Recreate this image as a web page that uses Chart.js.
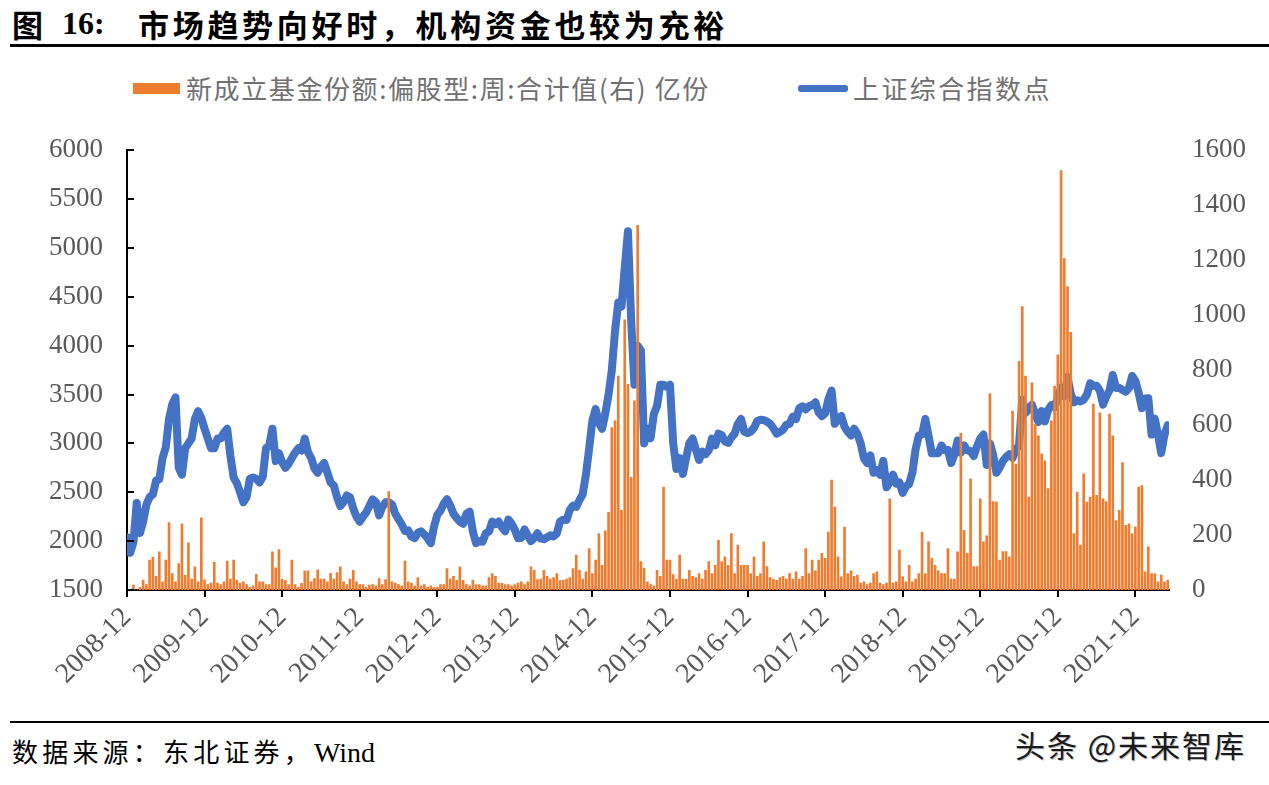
<!DOCTYPE html>
<html lang="zh-CN">
<head>
<meta charset="utf-8">
<script src="https://cdn.jsdelivr.net/npm/chart.js@4.4.1/dist/chart.umd.min.js"></script>
<style>
  html, body { margin: 0; padding: 0; background: #fff; }
  #page { position: relative; width: 1269px; height: 785px; overflow: hidden; font-family: "Noto Sans CJK SC", sans-serif; }
  .abs { position: absolute; white-space: nowrap; }
  .title { font-weight: bold; font-size: 31px; line-height: 31px; color: #000; top: 8px; }
  .rule { position: absolute; left: 10px; width: 1259px; height: 3px; background: #000; }
  .legend-text { font-size: 26px; line-height: 26px; color: #707070; letter-spacing: 1.6px; top: 75px; }
  #chart { position: absolute; left: 0; top: 110px; }
</style>
</head>
<body>
<div id="page">
  <div class="abs title" style="left:12px;">图</div>
  <div class="abs title" style="left:62px; font-family:'Liberation Serif', serif; font-size:32px;">16:</div>
  <div class="abs title" style="left:138px; letter-spacing:3.7px;">市场趋势向好时，机构资金也较为充裕</div>
  <div class="rule" style="top:44px;"></div>

  <div class="abs" style="left:133px; top:83px; width:47px; height:11px; background:#ED7D31;"></div>
  <div class="abs legend-text" style="left:186px;">新成立基金份额:偏股型:周:合计值(右) 亿份</div>
  <div class="abs" style="left:798px; top:85px; width:50px; height:7px; border-radius:3px; background:#4472C4;"></div>
  <div class="abs legend-text" style="left:853px; letter-spacing:2.4px;">上证综合指数点</div>

  <canvas id="chart" width="1269" height="610"></canvas>

  <div class="rule" style="top:721px; height:2px;"></div>
  <div class="abs" style="left:12px; top:737px; font-size:26px; line-height:28px; letter-spacing:4.2px; color:#000;">数据来源：东北证券，<span style="font-family:'Liberation Serif', serif; font-size:28px; letter-spacing:0;">Wind</span></div>
  <div class="abs" style="left:1015px; top:727px; font-size:30px; line-height:34px; letter-spacing:2px; color:#1a1a1a; text-shadow:1px 1px 0 #bbb;">头条 @未来智库</div>
</div>

<script>
// half-month periods starting 2008-12; x = period / 2 (months since 2008-12)
const tickLabels = ['2008-12', '2009-12', '2010-12', '2011-12', '2012-12', '2013-12', '2014-12',
                    '2015-12', '2016-12', '2017-12', '2018-12', '2019-12', '2020-12', '2021-12'];

// 上证综合指数 (点), two readings per month
const szIndex = [
  2040,
  1880, 1990, 2390, 2082, 2200, 2373, 2450, 2477, 2620, 2633, 2850, 2959, 3250, 3400, 3470, 2750, 2680, 2950, 3000, 3050, 3250, 3330, 3260, 3150,  // 2009
  3050, 2950, 2950, 3051, 3050, 3110, 3150, 2871, 2650, 2592, 2500, 2398, 2450, 2638, 2650, 2638, 2600, 2656, 2950, 2979, 3150, 2820, 2900, 2808,  // 2010
  2750, 2790, 2850, 2905, 2950, 2928, 3050, 2911, 2850, 2743, 2700, 2762, 2800, 2701, 2600, 2568, 2450, 2359, 2400, 2468, 2450, 2333, 2250, 2199,  // 2011
  2250, 2292, 2360, 2428, 2400, 2263, 2350, 2397, 2400, 2373, 2280, 2225, 2170, 2103, 2110, 2047, 2030, 2086, 2100, 2069, 2030, 1980, 2150, 2269,  // 2012
  2310, 2385, 2430, 2365, 2280, 2237, 2200, 2178, 2280, 2301, 2100, 1979, 2000, 1994, 2080, 2098, 2200, 2175, 2200, 2141, 2100, 2220, 2180, 2116,  // 2013
  2030, 2033, 2120, 2056, 2000, 2033, 2080, 2026, 2020, 2039, 2060, 2048, 2080, 2202, 2220, 2217, 2320, 2364, 2350, 2420, 2480, 2683, 2950, 3235,  // 2014
  3350, 3210, 3150, 3310, 3500, 3748, 4150, 4442, 4400, 4800, 5170, 4250, 3600, 4000, 3950, 3000, 3150, 3053, 3300, 3383, 3600, 3600, 3580, 3600,  // 2015
  3000, 2738, 2850, 2688, 2850, 3004, 3050, 2938, 2830, 2917, 2890, 2930, 3050, 2979, 3100, 3085, 3020, 3005, 3060, 3100, 3200, 3250, 3120, 3104,  // 2016
  3120, 3159, 3230, 3242, 3240, 3223, 3200, 3155, 3100, 3117, 3140, 3192, 3200, 3273, 3250, 3361, 3380, 3349, 3380, 3393, 3420, 3317, 3280, 3307,  // 2017
  3450, 3540, 3200, 3259, 3280, 3169, 3120, 3082, 3150, 3095, 3000, 2847, 2800, 2876, 2700, 2725, 2680, 2821, 2550, 2603, 2680, 2588, 2600, 2494,  // 2018
  2560, 2585, 2700, 2941, 3080, 3091, 3250, 3078, 2900, 2899, 2900, 2979, 2930, 2932, 2800, 2886, 3030, 2905, 2980, 2929, 2920, 2872, 2970, 3050,  // 2019
  3090, 2780, 3000, 2880, 2700, 2750, 2820, 2860, 2890, 2852, 2930, 2985, 3450, 3310, 3360, 3396, 3300, 3218, 3330, 3225, 3340, 3392, 3370, 3473,  // 2020
  3570, 3483, 3680, 3509, 3420, 3441, 3430, 3447, 3500, 3615, 3590, 3591, 3540, 3397, 3480, 3544, 3700, 3568, 3570, 3547, 3530, 3564, 3690, 3640,  // 2021
  3520, 3361, 3460, 3462, 3090, 3252, 3090, 2900, 3090, 3186                                                                                        // 2022
];

// 新成立基金份额:偏股型 (亿份), same periods
const fundShares = [
  0, 0, 18, 0, 10, 36, 20, 109, 119, 50, 139, 30, 109, 245, 60, 30, 96, 241, 53, 172, 40, 84, 30, 263,
  37, 20, 25, 102, 25, 20, 30, 105, 40, 109, 35, 25, 30, 20, 10, 15, 57, 30, 30, 20, 20, 139, 81, 147,
  40, 35, 20, 109, 20, 10, 24, 70, 70, 30, 42, 73, 40, 40, 30, 61, 40, 63, 84, 30, 20, 40, 72, 30,
  20, 20, 10, 18, 20, 15, 42, 20, 38, 358, 30, 25, 20, 15, 105, 30, 25, 15, 45, 15, 20, 10, 15, 10,
  10, 20, 20, 78, 40, 50, 35, 84, 35, 20, 15, 36, 20, 20, 15, 15, 45, 60, 50, 25, 25, 20, 20, 15,
  20, 25, 30, 20, 30, 84, 72, 38, 40, 72, 50, 40, 45, 60, 35, 35, 40, 45, 78, 127, 72, 40, 66, 151,
  60, 109, 205, 90, 215, 283, 591, 615, 778, 290, 983, 748, 410, 688, 1327, 103, 80, 30, 20, 15, 72, 50, 374, 109,
  109, 56, 40, 127, 40, 40, 72, 50, 45, 60, 40, 72, 103, 60, 90, 181, 103, 121, 90, 205, 60, 163, 90, 90,
  90, 60, 121, 50, 60, 175, 85, 45, 40, 35, 45, 50, 40, 60, 40, 66, 40, 50, 151, 60, 109, 70, 109, 133,
  115, 211, 400, 302, 121, 48, 229, 60, 70, 50, 54, 25, 30, 20, 25, 60, 66, 25, 20, 25, 332, 25, 30, 145,
  48, 30, 90, 30, 40, 60, 211, 60, 175, 115, 90, 70, 60, 60, 151, 40, 40, 139, 570, 217, 133, 404, 85, 85,
  332, 175, 197, 715, 322, 320, 109, 140, 140, 121, 651, 458, 832, 1031, 778, 338, 754, 603, 561, 495, 470, 369, 615, 742,
  856, 1526, 1206, 1104, 937, 205, 356, 163, 423, 320, 338, 676, 344, 645, 332, 322, 640, 561, 253, 290, 464, 235, 241, 205,
  229, 374, 380, 66, 157, 60, 60, 30, 54, 30, 36
];

const axisFont = { family: "'Liberation Serif', 'Times New Roman', serif", size: 27 };
const xFont = { family: "'Liberation Serif', 'Times New Roman', serif", size: 28 };
const axisColor = '#595959';

// small tick marks pointing into the plot on the left axis
const inwardTicks = {
    id: 'inwardTicks',
    afterDraw(chart) {
        const s = chart.scales.y;
        const c = chart.ctx;
        c.save();
        c.strokeStyle = '#000';
        c.lineWidth = 2;
        s.ticks.forEach(t => {
            const y = Math.round(s.getPixelForValue(t.value));
            c.beginPath();
            c.moveTo(s.right, y);
            c.lineTo(s.right + 7, y);
            c.stroke();
        });
        c.restore();
    }
};

function initChart() {
    const ctx = document.getElementById('chart');
    new Chart(ctx, {
        type: 'bar',
        data: {
            datasets: [{
                type: 'bar',
                label: '新成立基金份额:偏股型:周:合计值(右) 亿份',
                data: fundShares.map((v, i) => ({ x: i / 2, y: v })),
                yAxisID: 'y1',
                backgroundColor: '#ED7D31',
                barThickness: 2,
                order: 0,
            }, {
                type: 'line',
                label: '上证综合指数点',
                data: szIndex.map((v, i) => ({ x: i / 2, y: v })),
                yAxisID: 'y',
                borderColor: '#4472C4',
                borderWidth: 8,
                borderJoinStyle: 'round',
                borderCapStyle: 'round',
                pointRadius: 0,
                tension: 0,
                order: 1,
            }],
        },
        options: {
            responsive: false,
            animation: false,
            devicePixelRatio: 1,
            layout: { padding: { top: 18, left: 0, right: 0, bottom: 0 } },
            plugins: {
                legend: { display: false },
                tooltip: { enabled: false },
            },
            scales: {
                x: {
                    type: 'linear',
                    min: 0,
                    max: 161.2,
                    offset: false,
                    afterBuildTicks: s => { s.ticks = tickLabels.map((_, k) => ({ value: k * 12 })); },
                    afterFit: s => { s.height = 130; },
                    ticks: {
                        callback: v => tickLabels[Math.round(v / 12)] ?? '',
                        autoSkip: false,
                        minRotation: 45,
                        maxRotation: 45,
                        padding: 4,
                        color: axisColor,
                        font: xFont,
                    },
                    grid: { offset: false, drawOnChartArea: false, drawTicks: true, tickLength: 7, color: '#000', lineWidth: 2 },
                    border: { color: '#000', width: 2 },
                },
                y: {
                    position: 'left',
                    min: 1500,
                    max: 6000,
                    afterFit: s => { s.width = 127; },
                    ticks: { stepSize: 500, padding: 24, color: axisColor, font: axisFont, callback: v => String(v) },
                    grid: { display: false, drawTicks: false },
                    border: { color: '#000', width: 2 },
                },
                y1: {
                    position: 'right',
                    min: 0,
                    max: 1600,
                    afterFit: s => { s.width = 100; },
                    ticks: { stepSize: 200, padding: 23, color: axisColor, font: axisFont, callback: v => String(v) },
                    grid: { display: false, drawTicks: false },
                    border: { display: false },
                },
            },
        },
        plugins: [inwardTicks],
    });
}

document.addEventListener('DOMContentLoaded', initChart);
</script>
</body>
</html>
